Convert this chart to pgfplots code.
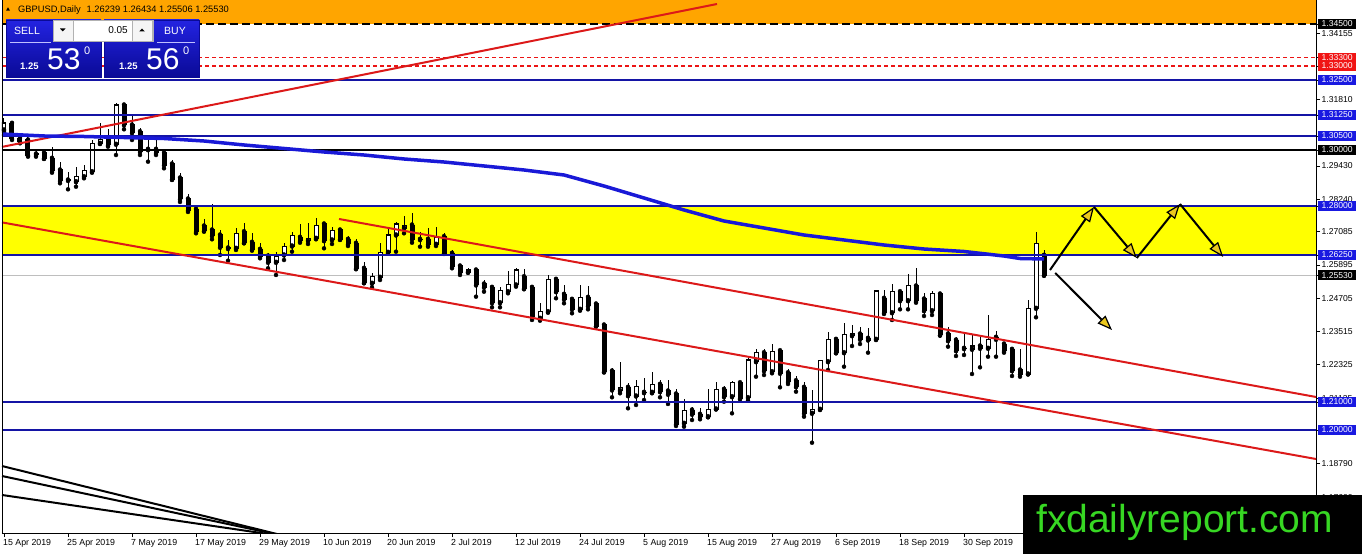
\documentclass[border=0pt]{standalone}
\usepackage{pgfplots}
\pgfplotsset{compat=1.18}
\usepackage{pgfplotstable}
\usepackage{fontspec}
\setmainfont{Liberation Sans}
\usetikzlibrary{arrows.meta}

\definecolor{levelBlue}{RGB}{20,20,165}
\definecolor{maBlue}{RGB}{25,25,215}
\definecolor{boxBlue}{RGB}{25,25,225}
\definecolor{trendRed}{RGB}{220,25,25}
\definecolor{dashRed}{RGB}{235,20,20}
\definecolor{boxRed}{RGB}{240,20,20}
\definecolor{bandOrange}{RGB}{255,165,0}
\definecolor{bandYellow}{RGB}{255,255,0}
\definecolor{arrowYellow}{RGB}{235,200,30}
\definecolor{logoGreen}{RGB}{55,215,35}
\definecolor{panTop}{RGB}{35,35,225}
\definecolor{panBot}{RGB}{10,10,150}
\definecolor{curGray}{RGB}{190,190,190}

\pgfplotstableread{
x o h l c
0 1.30714 1.31143 1.30643 1.30964
1 1.30954 1.30975 1.30357 1.30418
2 1.30418 1.30596 1.30239 1.30296
3 1.30357 1.30475 1.29761 1.29821
4 1.29857 1.30000 1.29761 1.29839
5 1.29904 1.29939 1.29679 1.29704
6 1.29704 1.30118 1.29189 1.29250
7 1.29286 1.29582 1.28811 1.28904
8 1.28929 1.29225 1.28596 1.28911
9 1.28868 1.29382 1.28689 1.29071
10 1.29046 1.29464 1.28989 1.29250
11 1.29225 1.30357 1.29189 1.30239
12 1.30239 1.30954 1.30214 1.30382
13 1.30418 1.30739 1.30118 1.30179
14 1.30204 1.31689 1.29821 1.31607
15 1.31607 1.31643 1.30739 1.30893
16 1.30893 1.31250 1.30357 1.30618
17 1.30654 1.30775 1.29821 1.29939
18 1.30025 1.30475 1.29582 1.30011
19 1.30025 1.30382 1.29821 1.29904
20 1.29904 1.30000 1.29346 1.29464
21 1.29500 1.29643 1.28929 1.28954
22 1.29000 1.29179 1.28143 1.28250
23 1.28250 1.28429 1.27786 1.27857
24 1.27882 1.28036 1.27025 1.27082
25 1.27286 1.27525 1.27082 1.27118
26 1.27143 1.28071 1.26811 1.26939
27 1.26964 1.27143 1.26250 1.26525
28 1.26500 1.26786 1.26046 1.26479
29 1.26489 1.27204 1.26429 1.27025
30 1.27082 1.27404 1.26668 1.26689
31 1.26704 1.27025 1.26404 1.26454
32 1.26454 1.26689 1.26132 1.26189
33 1.26214 1.26332 1.25775 1.25989
34 1.25989 1.26368 1.25536 1.26214
35 1.26250 1.26668 1.26071 1.26571
36 1.26571 1.27082 1.26368 1.26929
37 1.26882 1.27357 1.26689 1.26761
38 1.26761 1.27404 1.26643 1.26846
39 1.26846 1.27561 1.26811 1.27321
40 1.27357 1.27370 1.26489 1.26761
41 1.26786 1.27261 1.26643 1.27118
42 1.27143 1.27168 1.26786 1.26811
43 1.26811 1.26929 1.26571 1.26643
44 1.26668 1.26811 1.25740 1.25775
45 1.25775 1.26011 1.25240 1.25261
46 1.25240 1.25596 1.25096 1.25475
47 1.25454 1.26668 1.25357 1.26332
48 1.26346 1.27168 1.26311 1.26964
49 1.26964 1.27439 1.26368 1.27357
50 1.27204 1.27643 1.27025 1.27321
51 1.27321 1.27761 1.26689 1.26811
52 1.26811 1.27082 1.26546 1.26800
53 1.26811 1.27204 1.26546 1.26632
54 1.26632 1.27261 1.26571 1.26882
55 1.26904 1.27025 1.26286 1.26311
56 1.26311 1.26429 1.25775 1.25832
57 1.25857 1.25893 1.25536 1.25618
58 1.25632 1.25775 1.25618 1.25714
59 1.25714 1.25775 1.24761 1.25179
60 1.25214 1.25357 1.24940 1.25096
61 1.25096 1.25179 1.24382 1.24546
62 1.24546 1.25096 1.24382 1.24975
63 1.24940 1.25689 1.24882 1.25179
64 1.25179 1.25775 1.25118 1.25714
65 1.25475 1.25740 1.25025 1.25061
66 1.25096 1.25179 1.23929 1.24046
67 1.23989 1.24525 1.23904 1.24225
68 1.24225 1.25536 1.24189 1.25382
69 1.25382 1.25475 1.24704 1.24940
70 1.24846 1.25179 1.24525 1.24668
71 1.24668 1.24761 1.24168 1.24310
72 1.24310 1.25179 1.24260 1.24739
73 1.24739 1.25143 1.24310 1.24429
74 1.24500 1.24582 1.23690 1.23714
75 1.23750 1.23811 1.22054 1.22082
76 1.22107 1.22204 1.21168 1.21429
77 1.21404 1.22440 1.21311 1.21511
78 1.21525 1.21668 1.20775 1.21225
79 1.21214 1.21786 1.20893 1.21546
80 1.21346 1.21846 1.21071 1.21332
81 1.21346 1.22082 1.21311 1.21632
82 1.21632 1.21786 1.21168 1.21368
83 1.21393 1.21786 1.20929 1.21275
84 1.21286 1.21454 1.20143 1.20214
85 1.20239 1.21096 1.20118 1.20714
86 1.20714 1.20832 1.20357 1.20561
87 1.20561 1.20775 1.20382 1.20475
88 1.20475 1.21454 1.20454 1.20740
89 1.20750 1.21725 1.20740 1.21429
90 1.21454 1.21571 1.21011 1.21189
91 1.21189 1.21750 1.20596 1.21689
92 1.21689 1.21750 1.21096 1.21132
93 1.21154 1.22618 1.21046 1.22500
94 1.22440 1.22882 1.21904 1.22761
95 1.22761 1.22882 1.21964 1.22118
96 1.22082 1.23071 1.22025 1.22821
97 1.22832 1.22857 1.21525 1.22025
98 1.22046 1.22168 1.21643 1.21725
99 1.21761 1.21929 1.21368 1.21546
100 1.21525 1.21725 1.20475 1.20596
101 1.20596 1.21429 1.19546 1.20740
102 1.20740 1.22500 1.20714 1.22475
103 1.22440 1.23511 1.22143 1.23239
104 1.23239 1.23332 1.22739 1.22761
105 1.22761 1.23811 1.22261 1.23393
106 1.23368 1.23750 1.23000 1.23454
107 1.23429 1.23668 1.23071 1.23239
108 1.23275 1.23632 1.22761 1.23214
109 1.23239 1.25000 1.23214 1.24964
110 1.24704 1.25000 1.24143 1.24189
111 1.24189 1.25214 1.23929 1.24940
112 1.24940 1.25000 1.24310 1.24618
113 1.24618 1.25571 1.24310 1.25143
114 1.25143 1.25775 1.24546 1.24618
115 1.24679 1.24882 1.24071 1.24261
116 1.24261 1.24975 1.24107 1.24882
117 1.24857 1.24939 1.23370 1.23393
118 1.23429 1.23690 1.22976 1.23189
119 1.23214 1.23311 1.22643 1.22832
120 1.22918 1.23429 1.22679 1.22907
121 1.22882 1.23393 1.22000 1.23000
122 1.23000 1.23393 1.22239 1.22918
123 1.22918 1.24107 1.22618 1.23239
124 1.23311 1.23546 1.22618 1.23239
125 1.23071 1.23154 1.22761 1.22832
126 1.22882 1.22975 1.21929 1.22118
127 1.22143 1.22882 1.21904 1.22000
128 1.22000 1.24643 1.21990 1.24346
129 1.24346 1.27080 1.24025 1.26650
130 1.26239 1.26434 1.25506 1.25530
}\candles

\begin{document}
\begin{tikzpicture}[x=1pt,y=1pt,
  lbl/.style={anchor=west, xshift=2pt, minimum width=38pt, minimum height=9.5pt,
              inner sep=0pt, font=\fontsize{8.6}{10}\selectfont},
  arr/.style={black, line width=2pt,
              -{Triangle[length=15pt,width=11pt,fill=arrowYellow,line width=1.2pt]}}]
\useasboundingbox (0,0) rectangle (1362,554);
\fill[white] (0,0) rectangle (1362,554);
\begin{axis}[
  at={(2pt,21pt)}, anchor=south west, scale only axis,
  width=1314pt, height=533pt,
  xmin=-0.25, xmax=164, ymin=1.163214, ymax=1.353571,
  axis x line*=bottom, axis y line*=right,
  axis line style={-, black, line width=0.8pt},
  tick align=outside, major tick length=4pt,
  tick style={black, line width=0.8pt},
  minor tick num=0,
  xtick={0,8,...,120},
  xticklabels={15 Apr 2019,25 Apr 2019,7 May 2019,17 May 2019,29 May 2019,10 Jun 2019,20 Jun 2019,2 Jul 2019,12 Jul 2019,24 Jul 2019,5 Aug 2019,15 Aug 2019,27 Aug 2019,6 Sep 2019,18 Sep 2019,30 Sep 2019},
  xticklabel style={font=\fontsize{8.8}{10}\selectfont, anchor=north west, inner sep=0pt, xshift=-1pt, yshift=-2pt},
  ytick={1.17600,1.18790,1.20000,1.21000,1.21135,1.22325,1.23515,1.24705,1.25530,1.25895,1.26250,1.27085,1.28000,1.28240,1.29430,1.30000,1.30500,1.31250,1.31810,1.32500,1.33000,1.33300,1.34155,1.34500},
  yticklabel={\relax},
  scaled y ticks=false,
  clip mode=individual,
]
% bands
\fill[bandOrange] (axis cs:-0.25,1.345) rectangle (axis cs:164,1.353571);
\fill[bandYellow] (axis cs:-0.25,1.2625) rectangle (axis cs:164,1.28);
\addplot[curGray, line width=1pt] coordinates {(-0.25,1.2553) (164,1.2553)};

% candles: wicks, bodies, white insets for bullish candles
\addplot[only marks, mark=none, error bars/.cd, y dir=plus, y explicit, error mark=none,
  error bar style={draw=black, solid, line width=1pt}]
  table[x=x, y=l, y error expr=\thisrow{h}-\thisrow{l}] {\candles};
\addplot[only marks, mark=none, error bars/.cd, y dir=plus, y explicit, error mark=none,
  error bar style={draw=black, solid, line width=5pt}]
  table[x=x, y expr={min(\thisrow{o},\thisrow{c})-0.00018}, y error expr={abs(\thisrow{c}-\thisrow{o})+0.00036}] {\candles};
\addplot[only marks, mark=none, error bars/.cd, y dir=plus, y explicit, error mark=none,
  error bar style={draw=white, solid, line width=3pt}]
  table[x=x, y expr={\thisrow{o}+0.00018}, y error expr={max(\thisrow{c}-\thisrow{o}-0.00036,0)}] {\candles};

% horizontal levels
\addplot[black, line width=2pt, dash pattern=on 8pt off 4pt] coordinates {(-0.25,1.345) (164,1.345)};
\addplot[dashRed, line width=1.1pt, dash pattern=on 4pt off 3pt] coordinates {(-0.25,1.333) (164,1.333)};
\addplot[dashRed, line width=1.1pt, dash pattern=on 4pt off 3pt] coordinates {(-0.25,1.330) (164,1.330)};
\addplot[levelBlue, line width=1.3pt] coordinates {(-0.25,1.325) (164,1.325)};
\addplot[levelBlue, line width=1.2pt] coordinates {(-0.25,1.3125) (164,1.3125)};
\addplot[levelBlue, line width=1.2pt] coordinates {(-0.25,1.305) (164,1.305)};
\addplot[black, line width=2pt] coordinates {(-0.25,1.30) (164,1.30)};
\addplot[levelBlue, line width=2pt] coordinates {(-0.25,1.28) (164,1.28)};
\addplot[levelBlue, line width=2pt] coordinates {(-0.25,1.2625) (164,1.2625)};
\addplot[levelBlue, line width=2pt] coordinates {(-0.25,1.21) (164,1.21)};
\addplot[levelBlue, line width=2pt] coordinates {(-0.25,1.20) (164,1.20)};

% trend lines
\addplot[trendRed, line width=2pt] coordinates {(-0.25,1.30111) (89.125,1.35214)};
\addplot[trendRed, line width=2pt] coordinates {(-0.25,1.27414) (164,1.18964)};
\addplot[trendRed, line width=2pt] coordinates {(41.875,1.27536) (164,1.21179)};
\addplot[black, line width=2pt] coordinates {(-0.25,1.18714) (35.75,1.1617)};
\addplot[black, line width=2pt] coordinates {(-0.25,1.18357) (35.75,1.1617)};
\addplot[black, line width=2pt] coordinates {(-0.25,1.17679) (35.75,1.1617)};

% moving average
\addplot[maBlue, line width=3.5pt] coordinates {
(-0.25,1.30571) (5,1.30500) (10,1.30482) (15,1.30446) (20,1.30411) (25,1.30321)
(30,1.30179) (35,1.30054) (40,1.29929) (45,1.29821) (50,1.29679) (55,1.29571)
(60,1.29429) (65,1.29286) (70,1.29107) (75,1.28714) (80,1.28286) (85,1.27857)
(90,1.27464) (95,1.27214) (100,1.26964) (105,1.26786) (110,1.26607) (115,1.26464)
(120,1.26375) (125,1.26214) (127,1.26125) (130,1.26107)};

% scenario arrows
\draw[arr] (axis cs:130.75,1.25714) -- (axis cs:136.25,1.27964);
\draw[arr] (axis cs:136.25,1.27964) -- (axis cs:141.6,1.26143);
\draw[arr] (axis cs:141.6,1.26143) -- (axis cs:147,1.28071);
\draw[arr] (axis cs:147,1.28071) -- (axis cs:152.4,1.26179);
\draw[arr] (axis cs:131.4,1.25607) -- (axis cs:138.5,1.23571);

% left border
\draw[black, line width=0.8pt] (rel axis cs:0,0) -- (rel axis cs:0,1);

% right price labels
\node[lbl] at (axis cs:164,1.34155) {1.34155};
\node[lbl] at (axis cs:164,1.31810) {1.31810};
\node[lbl] at (axis cs:164,1.29430) {1.29430};
\node[lbl] at (axis cs:164,1.28240) {1.28240};
\node[lbl] at (axis cs:164,1.27085) {1.27085};
\node[lbl] at (axis cs:164,1.25895) {1.25895};
\node[lbl] at (axis cs:164,1.24705) {1.24705};
\node[lbl] at (axis cs:164,1.23515) {1.23515};
\node[lbl] at (axis cs:164,1.22325) {1.22325};
\node[lbl] at (axis cs:164,1.21135) {1.21135};
\node[lbl] at (axis cs:164,1.18790) {1.18790};
\node[lbl] at (axis cs:164,1.17600) {1.17600};
\node[lbl, fill=black, text=white] at (axis cs:164,1.345) {1.34500};
\node[lbl, fill=boxRed, text=white] at (axis cs:164,1.330) {1.33000};
\node[lbl, fill=boxRed, text=white] at (axis cs:164,1.333) {1.33300};
\node[lbl, fill=boxBlue, text=white] at (axis cs:164,1.325) {1.32500};
\node[lbl, fill=boxBlue, text=white] at (axis cs:164,1.3125) {1.31250};
\node[lbl, fill=boxBlue, text=white] at (axis cs:164,1.305) {1.30500};
\node[lbl, fill=black, text=white] at (axis cs:164,1.30) {1.30000};
\node[lbl, fill=boxBlue, text=white] at (axis cs:164,1.28) {1.28000};
\node[lbl, fill=boxBlue, text=white] at (axis cs:164,1.2625) {1.26250};
\node[lbl, fill=black, text=white] at (axis cs:164,1.2553) {1.25530};
\node[lbl, fill=boxBlue, text=white] at (axis cs:164,1.21) {1.21000};
\node[lbl, fill=boxBlue, text=white] at (axis cs:164,1.20) {1.20000};
\end{axis}

% title
\fill[black] (6,543.3) -- (10,543.3) -- (8,546.7) -- cycle;
\node[anchor=base west, inner sep=0pt, font=\fontsize{9.3}{11}\selectfont] at (18,541)
  {GBPUSD,Daily\hspace{6pt}1.26239 1.26434 1.25506 1.25530};

% one-click trading panel
\shade[top color=panTop, bottom color=panBot, draw=panBot] (6,477) rectangle (101,534);
\shade[top color=panTop, bottom color=panBot, draw=panBot] (104,477) rectangle (199,534);
\filldraw[fill=white, draw=gray!60, line width=0.6pt] (53,513) rectangle (153,534);
\filldraw[fill=gray!8, draw=gray!60, line width=0.6pt] (53,513) rectangle (73,534);
\filldraw[fill=gray!8, draw=gray!60, line width=0.6pt] (132,513) rectangle (152,534);
\fill[black] (60,525.5) -- (65.5,525.5) -- (62.75,522.5) -- cycle;
\fill[black] (139.25,522.5) -- (144.75,522.5) -- (142,525.5) -- cycle;
\node[anchor=east, inner sep=0pt, font=\fontsize{10}{12}\selectfont] at (128,523.5) {0.05};
\node[text=white, inner sep=0pt, font=\fontsize{10.5}{12}\selectfont] at (27,523) {SELL};
\node[text=white, inner sep=0pt, font=\fontsize{10.5}{12}\selectfont] at (175,523) {BUY};
\draw[white!75!blue, line width=0.8pt] (10,511.5) -- (51,511.5);
\draw[white!75!blue, line width=0.8pt] (157,511.5) -- (195,511.5);
\node[anchor=base west, inner sep=0pt, text=white, font=\bfseries\fontsize{9.5}{11}\selectfont] at (20,484) {1.25};
\node[anchor=base west, inner sep=0pt, text=white, font=\fontsize{30}{32}\selectfont] at (47,484) {53};
\node[anchor=base west, inner sep=0pt, text=white, font=\fontsize{11}{12}\selectfont] at (84,499) {0};
\node[anchor=base west, inner sep=0pt, text=white, font=\bfseries\fontsize{9.5}{11}\selectfont] at (119,484) {1.25};
\node[anchor=base west, inner sep=0pt, text=white, font=\fontsize{30}{32}\selectfont] at (146,484) {56};
\node[anchor=base west, inner sep=0pt, text=white, font=\fontsize{11}{12}\selectfont] at (183,499) {0};

% logo
\fill[black] (1023,0) rectangle (1362,59);
\node[anchor=base west, inner sep=0pt, text=logoGreen, font=\fontsize{39}{42}\selectfont] at (1036,22) {fxdailyreport.com};
\end{tikzpicture}
\end{document}
